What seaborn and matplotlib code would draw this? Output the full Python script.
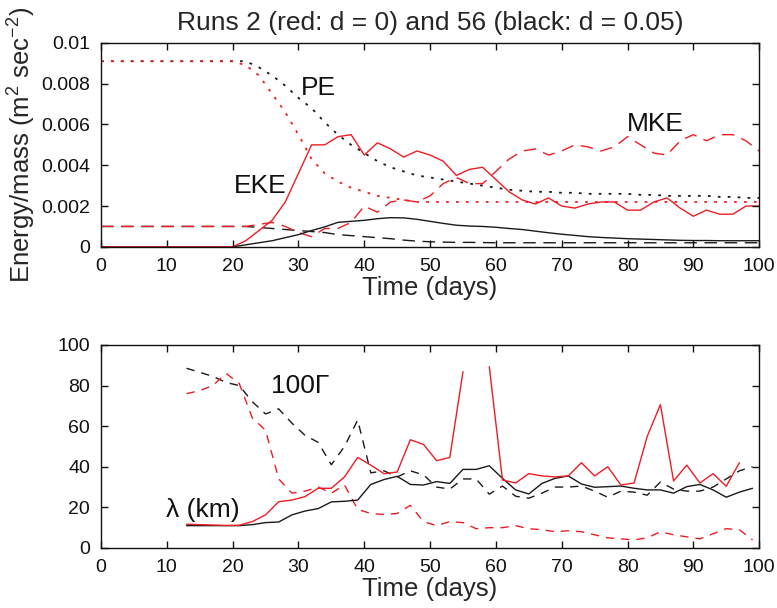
import numpy as np
import pandas as pd
import seaborn as sns
import matplotlib
matplotlib.use('Agg')
import matplotlib.pyplot as plt
from matplotlib import font_manager

# ---- data ----
t_energy = np.arange(0, 101, 2)

eke_red = [0.0] * 11 + [
    0.0003, 0.0008, 0.0013, 0.0022, 0.0036, 0.0050, 0.0050, 0.0054, 0.0055, 0.0045,
    0.0051, 0.0048, 0.0044, 0.0047, 0.0045, 0.0042, 0.0035, 0.0038, 0.0039, 0.0033,
    0.0027, 0.0023, 0.0021, 0.0024, 0.0020, 0.0019, 0.0021, 0.0022, 0.0022, 0.0018,
    0.0018, 0.0022, 0.0024, 0.0019, 0.0015, 0.0018, 0.0016, 0.0016, 0.0020, 0.0020]

eke_black = [0.0] * 11 + [
    0.0001, 0.0002, 0.0003, 0.00045, 0.0006, 0.0008, 0.00098, 0.0012, 0.00125, 0.0013,
    0.00138, 0.00143, 0.00142, 0.00135, 0.00125, 0.00115, 0.00106, 0.00102, 0.0010, 0.00096,
    0.0009, 0.00085, 0.00077, 0.00069, 0.00062, 0.00056, 0.0005, 0.00046, 0.00043, 0.0004,
    0.00038, 0.00036, 0.00034, 0.00032, 0.00031, 0.00031, 0.0003, 0.0003, 0.0003, 0.0003]

pe_red = [0.0091] * 11 + [
    0.0089, 0.0084, 0.0075, 0.0066, 0.0055, 0.0043, 0.0036, 0.0032, 0.0029, 0.0027,
    0.0025, 0.0024, 0.0023, 0.0022] + [0.0022] * 26

pe_black = [0.0091] * 12 + [
    0.0088, 0.0084, 0.0079, 0.0073, 0.0068, 0.0061, 0.0055, 0.0050, 0.0046, 0.0042,
    0.0039, 0.0037, 0.0035, 0.0034, 0.0033, 0.0032, 0.0031, 0.0030, 0.0029, 0.0028,
    0.00275, 0.0027, 0.0027, 0.00265, 0.00265, 0.0026, 0.0026, 0.0026, 0.0026, 0.00255,
    0.00255, 0.0025, 0.0025, 0.0025, 0.0025, 0.00245, 0.00245, 0.0024, 0.0024]

mke_red = [0.001] * 11 + [
    0.0010, 0.0011, 0.0012, 0.0010, 0.0007, 0.0005, 0.0009, 0.0009, 0.0012, 0.0020,
    0.0017, 0.0022, 0.0023, 0.0022, 0.0025, 0.0031, 0.0034, 0.0031, 0.0031, 0.0037,
    0.0043, 0.0047, 0.0048, 0.0045, 0.0047, 0.0050, 0.0049, 0.0047, 0.0049, 0.0054,
    0.0050, 0.0046, 0.0045, 0.0052, 0.0055, 0.0052, 0.0055, 0.0055, 0.0052, 0.0047]

mke_black = [0.001] * 12 + [
    0.00095, 0.0009, 0.00085, 0.0008, 0.00075, 0.0007, 0.0006, 0.00055, 0.0005, 0.00045,
    0.0004, 0.00033, 0.00028, 0.00025,
    0.00023, 0.00022, 0.00022, 0.00021, 0.0002, 0.0002, 0.0002, 0.0002, 0.0002, 0.0002,
    0.0002, 0.0002, 0.0002, 0.0002, 0.0002, 0.0002, 0.0002, 0.0002, 0.0002, 0.0002,
    0.0002, 0.0002, 0.0002, 0.0002, 0.0002]

t_scale = np.arange(13, 100, 2)

lam_red = [11.7, 11.5, 11.3, 11.1, 11.2, 13.0, 16.3, 22.8, 23.6, 25.3,
           29.4, 29.4, 35.0, 44.6, 40.8, 36.6, 37.4, 53.3, 51.0, 43.0,
           44.6, 86.8, np.nan, 89.3, 33.5, 32.0, 36.6, 35.5, 35.0, 35.5,
           42.0, 35.5, 40.0, 31.0, 32.0, 55.0, 70.6, 33.0, 40.8, 32.0,
           36.6, 30.4, 42.0, np.nan]

lam_black = [11, 11, 11, 11, 11, 11.5, 12.5, 12.8, 16.3, 18.2,
             19.4, 22.7, 23.0, 23.6, 31.3, 33.7, 35.3, 31.3, 31.0, 32.7,
             31.8, 38.7, 38.7, 40.5, 34.3, 28.6, 26.6, 31.8, 34.3, 35.5,
             31.5, 29.9, 30.2, 30.5, 29.4, 28.6, 28.6, 27.0, 30.2, 31.3,
             28.6, 25.0, 27.5, 29.4]

gam_red = [76, 77.5, 80, 86, 81, 64, 58, 34, 27, 28,
           30, 27, 31, 19, 17, 16.5, 17, 21, 13, 11,
           13, 12.5, 9.5, 10, 10, 11, 9.5, 9, 8, 8.5,
           8, 6.5, 5, 4.5, 4, 5, 8, 6.5, 5.5, 4.5,
           7, 9.5, 9, 4]

gam_black = [88.5, 86.5, 84.5, 81.5, 80, 72, 66, 68.5, 61.5, 55.5,
             52, 41, 50, 63, 37, 38, 35, 38, 36, 30,
             29, 34, 34, 26.5, 30.5, 25.5, 24.5, 27, 30, 30,
             30.5, 28, 25, 28, 27.5, 26, 32.5, 29, 28, 28,
             30, 34, 38, 40]

xticks = list(range(0, 101, 10))
yticks_top = [0, 0.002, 0.004, 0.006, 0.008, 0.01]
ylabels_top = ['0', '0.002', '0.004', '0.006', '0.008', '0.01']
yticks_bot = [0, 20, 40, 60, 80, 100]

RED = '#ee1c24'
BLACK = '#1a1a1a'
EDGE = '#111111'

sns.set_style('ticks')
have = {f.name for f in font_manager.fontManager.ttflist}
fam = 'Liberation Sans' if 'Liberation Sans' in have else 'DejaVu Sans'
plt.rcParams['font.family'] = [fam, 'DejaVu Sans']
plt.rcParams.update({
    'mathtext.fontset': 'custom', 'mathtext.rm': fam, 'mathtext.it': fam,
    'axes.linewidth': 1.0, 'axes.edgecolor': EDGE,
})


def draw(ax, t, v, color, ls, lw=1.0):
    # split on NaN so gaps stay gaps
    t = np.asarray(t, float)
    v = np.asarray(v, float)
    ok = ~np.isnan(v)
    edges = np.flatnonzero(np.diff(np.r_[0, ok.astype(int), 0]))
    for a, b in zip(edges[::2], edges[1::2]):
        df = pd.DataFrame({'t': t[a:b], 'v': v[a:b]})
        sns.lineplot(data=df, x='t', y='v', ax=ax, color=color, lw=lw,
                     linestyle=ls, estimator=None, sort=False)


def inner_ticks(ax, xs, ys, length_px=7):
    # matlab-style inward ticks on all four sides
    bb = ax.get_position()
    W, H = fig.get_size_inches() * fig.dpi
    fx = length_px / (bb.width * W)
    fy = length_px / (bb.height * H)
    kw = dict(color=EDGE, lw=1.0, clip_on=False, solid_capstyle='butt')
    for x in xs:
        ax.plot([x, x], [0, fy], transform=ax.get_xaxis_transform(), **kw)
        ax.plot([x, x], [1, 1 - fy], transform=ax.get_xaxis_transform(), **kw)
    for y in ys:
        ax.plot([0, fx], [y, y], transform=ax.get_yaxis_transform(), **kw)
        ax.plot([1, 1 - fx], [y, y], transform=ax.get_yaxis_transform(), **kw)


fig = plt.figure(figsize=(7.77, 6.08), dpi=100)
ax1 = fig.add_axes([0.130, 0.594, 0.847, 0.3355])
ax2 = fig.add_axes([0.130, 0.0987, 0.847, 0.334])

dash_top = (0, (9, 5.5))
dot = (0, (1.5, 4))
draw(ax1, t_energy, pe_black, BLACK, dot, 1.3)
draw(ax1, t_energy, pe_red, RED, dot, 1.3)
draw(ax1, t_energy, mke_black, BLACK, dash_top)
draw(ax1, t_energy, mke_red, RED, dash_top)
draw(ax1, t_energy, eke_black, BLACK, '-')
draw(ax1, t_energy, eke_red, RED, '-')

dash_bot = (0, (6, 5))
draw(ax2, t_scale, gam_black, BLACK, dash_bot)
draw(ax2, t_scale, gam_red, RED, dash_bot)
draw(ax2, t_scale, lam_black, BLACK, '-')
draw(ax2, t_scale, lam_red, RED, '-')

ax1.set_ylim(0, 0.01)
ax1.set_yticks(yticks_top)
ax1.set_yticklabels(ylabels_top)
ax1.set_ylabel('Energy/mass (m$^{2}$ sec$^{-2}$)', fontsize=18.5, labelpad=2)
ax1.set_title('Runs 2 (red: d = 0) and 56 (black: d = 0.05)', fontsize=19, pad=9)

ax2.set_ylim(0, 100)
ax2.set_yticks(yticks_bot)
ax2.set_ylabel('')

for ax in (ax1, ax2):
    ax.set_xlim(0, 100)
    ax.set_xticks(xticks)
    ax.tick_params(axis='both', which='major', direction='in', length=0,
                   labelsize=14, labelcolor=EDGE, pad=8)
    ax.set_xlabel('Time (days)', fontsize=18.5, labelpad=1)
    for s in ax.spines.values():
        s.set_visible(True)

inner_ticks(ax1, xticks, yticks_top)
inner_ticks(ax2, xticks, yticks_bot)

txt = dict(fontsize=19, ha='center', va='center', color=EDGE)
ax1.text(33, 0.0078, 'PE', **txt)
ax1.text(24.2, 0.0030, 'EKE', **txt)
ax1.text(84.2, 0.0060, 'MKE', **txt)
ax2.text(30.2, 80, '100\u0393', **txt)
ax2.text(15.4, 18.5, '\u03bb (km)', **txt)

fig.savefig('out.png', dpi=100)
